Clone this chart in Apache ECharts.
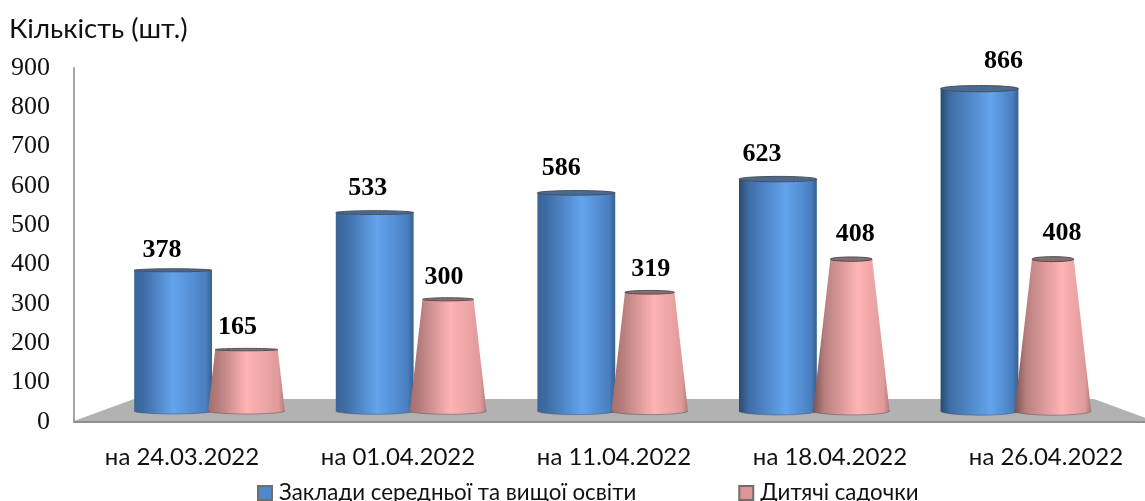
<!DOCTYPE html>
<html><head><meta charset="utf-8">
<style>html,body{margin:0;padding:0;background:#fff}#c{width:1145px;height:501px}</style>
<script src="https://cdn.jsdelivr.net/npm/echarts@6/dist/echarts.min.js"></script>
</head><body><div id="c"></div>
<script>
const categories = ['на 24.03.2022','на 01.04.2022','на 11.04.2022','на 18.04.2022','на 26.04.2022'];
const schools = [378,533,586,623,866];
const kindergartens = [165,300,319,408,408];
const yTicksMax = 900;
const seriesNames = ['Заклади середньої та вищої освіти','Дитячі садочки'];

// label nudges of the hand-placed labels, in px
const schoolNudge = [[-11,-20],[-7,-24],[-15,-25],[-16,-25],[24,-27]];
const kinderNudge = [[-9,-22],[-4,-22],[1,-23],[4,-25],[9,-26]];

const serif = '"Liberation Serif","Times New Roman",serif';
const sans = 'Lato,"Open Sans","Noto Sans",sans-serif';

function grad(stops){
  return new echarts.graphic.LinearGradient(0,0,1,0,stops.map(s=>({offset:s[0],color:s[1]})));
}
function blueGrad(i){
  const t=i/4;
  const hi=0.5+0.14*t;
  return grad([[0,t>0.5?'#294a70':'#3a6496'],[0.12,'#3f6ca5'],[hi,'#63a4ee'],[0.92,'#4a7fc0'],[1,'#36608f']]);
}
function pinkGrad(i){
  const t=i/4;
  const hi=0.5+0.12*t;
  return grad([[0,t>0.5?'#7c5250':'#a86c6c'],[0.15,'#b87f7f'],[hi,'#ffb3b3'],[0.92,'#e09a9a'],[1,'#b07a7a']]);
}
function labelEl(x,y,v){
  return {type:'text',z2:20,style:{x:x,y:y,text:String(v),fill:'#000',font:'bold 26px '+serif,textAlign:'center',textVerticalAlign:'middle'}};
}
function drawSolid(params,api,kind){
  const i=api.value(0), v=api.value(1);
  const band=api.size([1,0])[0];
  const c=api.coord([i,v]), b=api.coord([i,0]);
  const off=(kind==='cyl'?-0.182:0.182)*band;
  const cx=c[0]+off;
  const rBase=kind==='cyl'?0.193*band:0.19*band;
  const rTop=kind==='cyl'?rBase:rBase*(1-v/yTicksMax);
  const ryBot=3+i*0.3, ryTop=(1.5+i*0.4)*(kind==='cyl'?1:0.8);
  const fill=kind==='cyl'?blueGrad(i):pinkGrad(i);
  const topFill=kind==='cyl'?'#4a6a92':'#8f6c6c';
  const nudge=(kind==='cyl'?schoolNudge:kinderNudge)[i];
  return {type:'group',children:[
    {type:'ellipse',shape:{cx:cx,cy:b[1],rx:rBase,ry:ryBot},style:{fill:fill,stroke:'rgba(60,70,90,0.45)',lineWidth:1}},
    {type:'polygon',shape:{points:[[cx-rTop,c[1]],[cx+rTop,c[1]],[cx+rBase,b[1]],[cx-rBase,b[1]]]},style:{fill:fill}},
    {type:'ellipse',shape:{cx:cx,cy:c[1],rx:rTop,ry:ryTop},style:{fill:topFill,stroke:'#4a4f58',lineWidth:1}},
    labelEl(cx+nudge[0],c[1]+nudge[1],v)
  ]};
}
const option={
  animation:false,
  backgroundColor:'#fff',
  title:{text:'Кількість (шт.)',left:4,top:10,textStyle:{fontFamily:sans,fontWeight:'normal',fontSize:27.5,color:'#111'}},
  legend:{left:252,top:477,itemWidth:14,itemHeight:14,itemGap:102,icon:'rect',
    textStyle:{fontFamily:sans,fontSize:22.3,color:'#111',padding:[0,0,0,2]},
    data:seriesNames},
  grid:[
    {left:74,top:68,width:1080,height:354,outerBoundsMode:'none'},
    {left:109,top:76,width:1008,height:335,outerBoundsMode:'none'}
  ],
  xAxis:[
    {type:'category',gridIndex:0,data:categories,axisTick:{show:false},
     axisLine:{lineStyle:{color:'#8f8f8f',width:2}},
     axisLabel:{fontFamily:sans,fontSize:24,color:'#111',margin:23}},
    {type:'category',gridIndex:1,data:categories,show:false}
  ],
  yAxis:[
    {type:'value',gridIndex:0,min:0,max:yTicksMax,interval:100,splitLine:{show:false},
     axisLine:{show:true,lineStyle:{color:'#a6a6a6',width:2}},axisTick:{show:false},
     axisLabel:{fontFamily:serif,fontSize:26,color:'#111',margin:24,padding:[14,0,0,0]}},
    {type:'value',gridIndex:1,min:0,max:yTicksMax,interval:100,show:false}
  ],
  series:[
    {type:'custom',xAxisIndex:0,yAxisIndex:0,silent:true,z:1,clip:false,data:[[0,0]],encode:{x:0,y:1},
     renderItem:function(params){
       const g=params.coordSys,L=g.x,R=g.x+g.width,B=g.y+g.height-1,T=B-22;
       return {type:'polygon',shape:{points:[[L,B],[L+60,T],[R-60,T],[R,B]]},style:{fill:'#b2b2b2'}};
     }},
    {type:'custom',name:seriesNames[0],xAxisIndex:1,yAxisIndex:1,z:3,clip:false,
     itemStyle:{color:'#4f86cc',borderColor:'#6e6e6e',borderWidth:1},
     data:schools.map((v,i)=>[i,v]),encode:{x:0,y:1},
     renderItem:(p,a)=>drawSolid(p,a,'cyl')},
    {type:'custom',name:seriesNames[1],xAxisIndex:1,yAxisIndex:1,z:4,clip:false,
     itemStyle:{color:'#d99694',borderColor:'#6e6e6e',borderWidth:1},
     data:kindergartens.map((v,i)=>[i,v]),encode:{x:0,y:1},
     renderItem:(p,a)=>drawSolid(p,a,'cone')}
  ]
};
echarts.init(document.getElementById('c'),null,{renderer:'canvas'}).setOption(option);
</script></body></html>
